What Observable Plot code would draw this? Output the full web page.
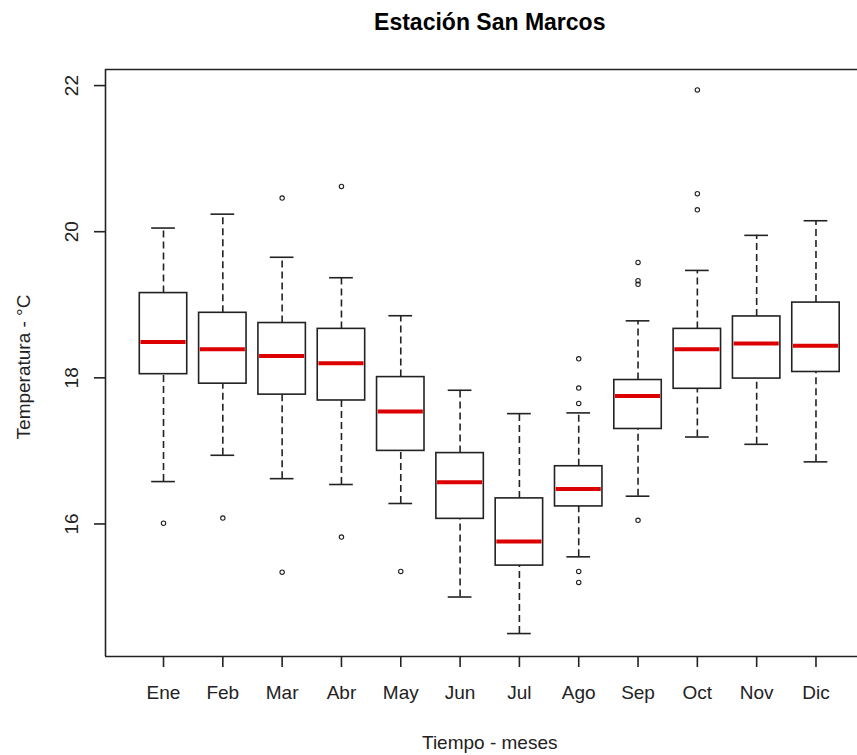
<!DOCTYPE html>
<html>
<head>
<meta charset="utf-8">
<script src="https://cdn.jsdelivr.net/npm/d3@7"></script>
<script src="https://cdn.jsdelivr.net/npm/@observablehq/plot@0.6"></script>
<style>
  html, body { margin: 0; padding: 0; background: #fff; }
  #chart svg { display: block; }
</style>
</head>
<body>
<div id="chart"></div>
<script>
const months = ["Ene","Feb","Mar","Abr","May","Jun","Jul","Ago","Sep","Oct","Nov","Dic"];
const whiskerLow  = [16.58,16.94,16.62,16.54,16.28,15.00,14.50,15.55,16.38,17.19,17.09,16.85];
const q1          = [18.05,17.92,17.77,17.69,17.00,16.07,15.43,16.24,17.30,17.85,17.99,18.08];
const medians     = [18.49,18.39,18.30,18.20,17.54,16.57,15.76,16.48,17.75,18.39,18.47,18.44];
const q3          = [19.16,18.89,18.75,18.67,18.01,16.97,16.35,16.79,17.97,18.67,18.84,19.03];
const whiskerHigh = [20.05,20.24,19.65,19.37,18.85,17.83,17.51,17.52,18.78,19.47,19.95,20.15];
const outlierMonth = ["Ene","Feb","Mar","Mar","Abr","Abr","May","Ago","Ago","Ago","Ago","Ago","Sep","Sep","Sep","Sep","Oct","Oct","Oct"];
const outlierValue = [16.01,16.08,20.46,15.34,20.62,15.82,15.35,18.26,17.86,17.65,15.35,15.20,19.58,19.33,19.28,16.05,21.94,20.52,20.30];
const yTicks = [16, 18, 20, 22];
const title = "Estación San Marcos";
const xTitle = "Tiempo - meses";
const yTitle = "Temperatura - °C";

const boxes = months.map((m, i) => ({
  m, pos: i + 1, lo: whiskerLow[i], q1: q1[i], med: medians[i], q3: q3[i], hi: whiskerHigh[i]
}));
const outliers = outlierMonth.map((m, i) => ({ pos: months.indexOf(m) + 1, v: outlierValue[i] }));

const xDomain = [0.022, 12.70];
const yDomain = [14.186, 22.22];
const ink = "#222";
const font = "Liberation Sans, Arial, Helvetica, sans-serif";
const mid = (1 + months.length) / 2;

const chart = Plot.plot({
  width: 857,
  height: 755,
  marginLeft: 105,
  marginRight: 0,
  marginTop: 69,
  marginBottom: 99,
  style: { fontFamily: font, background: "#fff", color: ink },
  x: { type: "linear", domain: xDomain, axis: null },
  y: { type: "linear", domain: yDomain, axis: null },
  marks: [
    // plot frame (right side lies beyond the cropped image)
    Plot.ruleY([yDomain[1]], { stroke: ink, strokeWidth: 1.6 }),
    Plot.ruleY([yDomain[0]], { stroke: ink, strokeWidth: 1.6 }),
    Plot.ruleX([xDomain[0]], { stroke: ink, strokeWidth: 1.6 }),
    // axes
    Plot.axisX({
      ticks: months.map((_, i) => i + 1),
      tickFormat: d => months[d - 1],
      tickSize: 11, tickPadding: 18, fontSize: 19,
      stroke: ink, strokeWidth: 1.6, label: null
    }),
    Plot.axisY({
      ticks: yTicks, tickFormat: () => "",
      tickSize: 11, stroke: ink, strokeWidth: 1.6, label: null
    }),
    Plot.text(yTicks, {
      x: () => xDomain[0], y: d => d, text: d => String(d),
      rotate: -90, dx: -28, textAnchor: "middle", lineAnchor: "bottom",
      fontSize: 19, fill: ink
    }),
    // whiskers (dashed)
    Plot.ruleX(boxes, { x: "pos", y1: "q3", y2: "hi", stroke: ink, strokeWidth: 1.6, strokeDasharray: "7,4" }),
    Plot.ruleX(boxes, { x: "pos", y1: "lo", y2: "q1", stroke: ink, strokeWidth: 1.6, strokeDasharray: "7,4" }),
    // whisker caps
    Plot.ruleY(boxes, { y: "hi", x1: d => d.pos - 0.2, x2: d => d.pos + 0.2, stroke: ink, strokeWidth: 1.6 }),
    Plot.ruleY(boxes, { y: "lo", x1: d => d.pos - 0.2, x2: d => d.pos + 0.2, stroke: ink, strokeWidth: 1.6 }),
    // boxes
    Plot.rect(boxes, { x1: d => d.pos - 0.4, x2: d => d.pos + 0.4, y1: "q1", y2: "q3", fill: "#fff", stroke: ink, strokeWidth: 1.6 }),
    // medians
    Plot.ruleY(boxes, { y: "med", x1: d => d.pos - 0.4 + 0.02, x2: d => d.pos + 0.4 - 0.02, stroke: "#dd0000", strokeWidth: 4 }),
    // outliers
    Plot.dot(outliers, { x: "pos", y: "v", r: 2.2, stroke: ink, strokeWidth: 1.1, fill: "none" }),
    // titles
    Plot.text([title], { x: () => mid, frameAnchor: "top", dy: -40, lineAnchor: "bottom", fontSize: 23, fontWeight: "bold", fill: "#000" }),
    Plot.text([xTitle], { x: () => mid, frameAnchor: "bottom", dy: 92, lineAnchor: "bottom", fontSize: 19, fill: ink }),
    Plot.text([yTitle], { frameAnchor: "left", dx: -76, dy: 4, rotate: -90, textAnchor: "middle", lineAnchor: "bottom", fontSize: 19, fill: ink })
  ]
});
document.getElementById("chart").appendChild(chart);
</script>
</body>
</html>
